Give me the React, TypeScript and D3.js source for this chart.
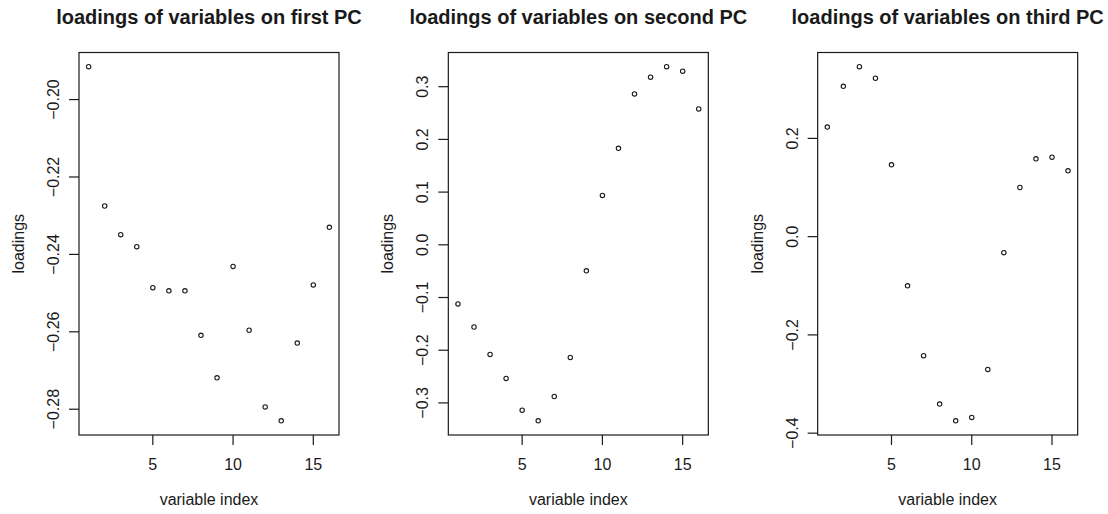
import React from "react";
import * as d3 from "d3";

const indices = d3.range(1, 17);

const pc1Loadings = [
  -0.1915, -0.2275, -0.2349, -0.238, -0.2486, -0.2494, -0.2494, -0.2609,
  -0.2719, -0.2431, -0.2596, -0.2794, -0.283, -0.2629, -0.2479, -0.233,
];
const pc2Loadings = [
  -0.1122, -0.156, -0.208, -0.2536, -0.3137, -0.334, -0.2878, -0.2137,
  -0.0494, 0.0937, 0.183, 0.2863, 0.318, 0.338, 0.3295, 0.2578,
];
const pc3Loadings = [
  0.2231, 0.306, 0.346, 0.3224, 0.1461, -0.1, -0.2422, -0.3408,
  -0.3749, -0.368, -0.2702, -0.0327, 0.1, 0.1584, 0.1618, 0.1339,
];

const pc1Ticks = [-0.28, -0.26, -0.24, -0.22, -0.2];
const pc2Ticks = [-0.3, -0.2, -0.1, 0.0, 0.1, 0.2, 0.3];
const pc3Ticks = [-0.4, -0.2, 0.0, 0.2];
const xTicks = [5, 10, 15];

const titles = [
  "loadings of variables on first PC",
  "loadings of variables on second PC",
  "loadings of variables on third PC",
];
const xLabel = "variable index";
const yLabel = "loadings";

const panels = [
  { title: titles[0], values: pc1Loadings, ticks: pc1Ticks, digits: 2 },
  { title: titles[1], values: pc2Loadings, ticks: pc2Ticks, digits: 1 },
  { title: titles[2], values: pc3Loadings, ticks: pc3Ticks, digits: 1 },
];

const W = 1108;
const H = 514;
const PANEL_W = W / 3;
const BOX = { left: 79, right: 339, top: 52.5, bottom: 435 };
const FONT = "'Liberation Sans', Arial, sans-serif";
const INK = "#1a1a1a";

function rExpand(ext: [number, number]): [number, number] {
  const pad = (ext[1] - ext[0]) * 0.04;
  return [ext[0] - pad, ext[1] + pad];
}

function Panel({ p, offset }: { p: (typeof panels)[number]; offset: number }) {
  const x = d3
    .scaleLinear()
    .domain(rExpand(d3.extent(indices) as [number, number]))
    .range([BOX.left, BOX.right]);
  const y = d3
    .scaleLinear()
    .domain(rExpand(d3.extent(p.values) as [number, number]))
    .range([BOX.bottom, BOX.top]);
  const fmt = d3.format(`.${p.digits}f`);
  const cx = (BOX.left + BOX.right) / 2;
  const cy = (BOX.top + BOX.bottom) / 2;
  return (
    <g transform={`translate(${offset},0)`}>
      <text
        x={cx}
        y={24}
        textAnchor="middle"
        fontFamily={FONT}
        fontWeight="bold"
        fontSize={20}
        fill={INK}
      >
        {p.title}
      </text>
      <rect
        x={BOX.left}
        y={BOX.top}
        width={BOX.right - BOX.left}
        height={BOX.bottom - BOX.top}
        fill="none"
        stroke={INK}
        strokeWidth={1.2}
      />
      {xTicks.map((t) => (
        <g key={`x${t}`}>
          <line
            x1={x(t)}
            x2={x(t)}
            y1={BOX.bottom}
            y2={BOX.bottom + 10}
            stroke={INK}
            strokeWidth={1.2}
          />
          <text
            x={x(t)}
            y={470}
            textAnchor="middle"
            fontFamily={FONT}
            fontSize={16}
            fill={INK}
          >
            {t}
          </text>
        </g>
      ))}
      {p.ticks.map((t) => (
        <g key={`y${t}`}>
          <line
            x1={BOX.left - 10}
            x2={BOX.left}
            y1={y(t)}
            y2={y(t)}
            stroke={INK}
            strokeWidth={1.2}
          />
          <text
            transform={`translate(${BOX.left - 20},${y(t)}) rotate(-90)`}
            textAnchor="middle"
            fontFamily={FONT}
            fontSize={16}
            fill={INK}
          >
            {fmt(t)}
          </text>
        </g>
      ))}
      <text
        x={cx}
        y={505}
        textAnchor="middle"
        fontFamily={FONT}
        fontSize={16}
        fill={INK}
      >
        {xLabel}
      </text>
      <text
        transform={`translate(24,${cy}) rotate(-90)`}
        textAnchor="middle"
        fontFamily={FONT}
        fontSize={16}
        fill={INK}
      >
        {yLabel}
      </text>
      {p.values.map((v, i) => (
        <circle
          key={i}
          cx={x(indices[i])}
          cy={y(v)}
          r={2.2}
          fill="none"
          stroke={INK}
          strokeWidth={1.1}
        />
      ))}
    </g>
  );
}

export default function App() {
  return (
    <svg
      width={W}
      height={H}
      viewBox={`0 0 ${W} ${H}`}
      style={{ position: "absolute", left: 0, top: 0, background: "#fff" }}
    >
      <rect width={W} height={H} fill="#fff" />
      {panels.map((p, i) => (
        <Panel key={i} p={p} offset={i * PANEL_W} />
      ))}
    </svg>
  );
}
